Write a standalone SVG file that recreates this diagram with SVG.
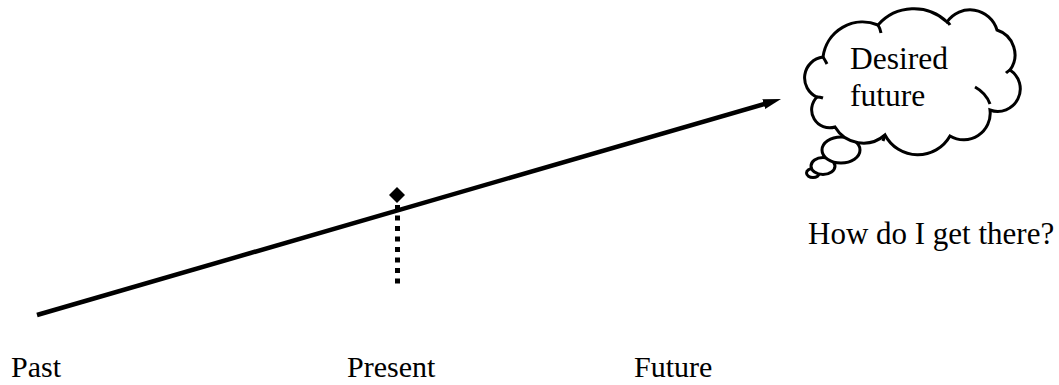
<svg xmlns="http://www.w3.org/2000/svg" width="1059" height="385" viewBox="0 0 1059 385">
<defs>
<style>
.t{font-family:"Liberation Serif","Times New Roman",serif;font-size:30px;fill:#000}
.ln{stroke:#000;fill:none}
.cl{stroke:#000;stroke-width:3;fill:#fff}
</style>
<marker id="ah" viewBox="0 0 18 10" refX="4" refY="5" markerWidth="18" markerHeight="10" markerUnits="userSpaceOnUse" orient="auto">
<path d="M0,0 L18,5 L0,10 z" fill="#000"/>
</marker>
</defs>
<g id="connectors">
<line class="ln" x1="37" y1="315" x2="767.6" y2="103" stroke-width="4.5" marker-end="url(#ah)"/>
<line class="ln" x1="397.5" y1="205" x2="397.5" y2="286" stroke-width="5" stroke-dasharray="5 5.5"/>
</g>
<g id="present-marker">
<path d="M397,187 L405,195 L397,203 L389,195 z" fill="#000"/>
</g>
<g id="cloud">
<ellipse class="cl" cx="813" cy="173" rx="6.5" ry="4.5"/>
<ellipse class="cl" cx="823" cy="166" rx="12" ry="8.5"/>
<ellipse class="cl" cx="841" cy="150" rx="19" ry="13"/>
<path class="cl" d="M823,57 A40,40 0 0 1 878,25 A48,48 0 0 1 947,22 A28,28 0 0 1 997,30 A26,26 0 0 1 1010,70 A22.5,22.5 0 0 1 990,110 A26.5,26.5 0 0 1 950,136 A37,37 0 0 1 885,135 A33,33 0 0 1 835,127 A18,18 0 0 1 817,97 A21,21 0 0 1 823,57 z"/>
<path class="ln" stroke-width="3" d="M823,57 Q825,60 827,64 M878,25 Q880,28 881,33 M947,22 Q949,23 950,25 M1010,70 Q1008,71 1006,73 M975,87 Q986,93 990,104 M885,135 Q884,138 883,141 M817,97 Q820,97 823,98"/>
<text class="t" x="850" y="69" style="font-size:31.5px">Desired</text>
<text class="t" x="850" y="106" style="font-size:31.5px">future</text>
</g>
<g id="question">
<text class="t" x="808" y="244" style="font-size:31px">How do I get there?</text>
</g>
<g id="labels">
<text class="t" x="11" y="377">Past</text>
<text class="t" x="347" y="377">Present</text>
<text class="t" x="634" y="377">Future</text>
</g>
</svg>
